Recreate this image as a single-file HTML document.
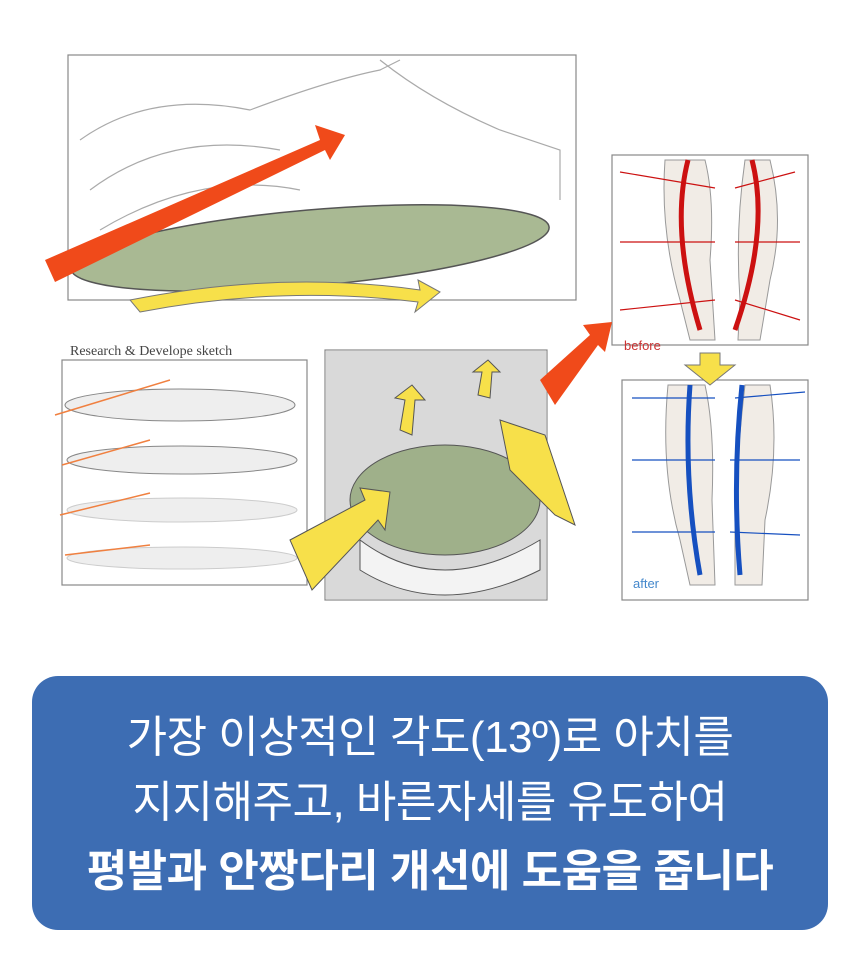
<!DOCTYPE html>
<html><head><meta charset="utf-8"><style>
body{margin:0;width:860px;height:957px;background:#fff;overflow:hidden;font-family:"Liberation Sans","Noto Sans CJK KR",sans-serif}
.box{position:absolute;left:32px;top:676px;width:796px;height:254px;background:#3d6db3;border-radius:26px;color:#fff;text-align:center}
.l{position:absolute;left:0;right:0;font-size:44px;line-height:50px;letter-spacing:-0.5px;font-weight:400}
</style></head><body>
<svg width="860" height="660" style="position:absolute;left:0;top:0" xmlns="http://www.w3.org/2000/svg">
<g stroke="#888" fill="none" stroke-width="1.2">
<rect x="68" y="55" width="508" height="245"/>
<path d="M80 140 Q150 90 250 110 Q330 80 380 70 L400 60 M90 190 Q170 130 280 150 M100 230 Q200 170 300 190 M380 60 Q430 100 500 130 L560 150 L560 200" stroke="#aaa"/>
<rect x="62" y="360" width="245" height="225"/>
<rect x="325" y="350" width="222" height="250"/>
<rect x="612" y="155" width="196" height="190"/>
<rect x="622" y="380" width="186" height="220"/>
</g>
<rect x="326" y="351" width="220" height="248" fill="#d9d9d9"/>
<ellipse cx="445" cy="500" rx="95" ry="55" fill="#9fb08a" stroke="#555"/>
<path d="M360 540 Q440 600 540 540 L540 570 Q440 620 360 570Z" fill="#f3f3f3" stroke="#555"/>
<ellipse cx="310" cy="248" rx="240" ry="38" fill="#a9b993" stroke="#555" stroke-width="1.5" transform="rotate(-5 310 248)"/>
<path d="M45 260 L320 140 L315 125 L345 135 L330 160 L325 150 L55 282Z" fill="#f04a1a"/>
<path d="M130 300 Q280 270 420 290 L418 280 L440 292 L415 312 L418 302 Q280 285 140 312Z" fill="#f7e04a" stroke="#777"/>
<text x="70" y="355" font-size="14" fill="#444" font-family="Liberation Serif">Research &amp; Develope sketch</text>
<g fill="#eee" stroke="#888">
<ellipse cx="180" cy="405" rx="115" ry="16"/>
<ellipse cx="182" cy="460" rx="115" ry="14"/>
<ellipse cx="182" cy="510" rx="115" ry="12" stroke="#ccc"/>
<ellipse cx="182" cy="558" rx="115" ry="11" stroke="#ccc"/>
</g>
<g stroke="#f08040" stroke-width="1.5"><path d="M55 415 L170 380 M62 465 L150 440 M60 515 L150 493 M65 555 L150 545"/></g>
<path d="M290 540 L365 500 L360 488 L390 492 L385 530 L378 520 L312 590Z" fill="#f7e04a" stroke="#555"/>
<path d="M500 420 L545 435 L575 525 L555 515 L510 470Z" fill="#f7e04a" stroke="#555"/>
<path d="M400 430 L405 400 L395 398 L412 385 L425 400 L415 400 L412 435Z" fill="#f7e04a" stroke="#555"/>
<path d="M478 395 L482 372 L473 372 L488 360 L500 372 L492 372 L490 398Z" fill="#f7e04a" stroke="#555"/>
<path d="M540 380 L590 335 L583 325 L612 322 L605 352 L598 345 L555 405Z" fill="#f04a1a"/>
<text x="624" y="350" font-size="13" fill="#c33">before</text>
<text x="633" y="588" font-size="13" fill="#48c">after</text>
<path d="M700 353 L720 353 L720 365 L735 365 L710 385 L685 365 L700 365Z" fill="#f7e04a" stroke="#777"/>
<g fill="#f1ece6" stroke="#999">
<path d="M665 160 Q660 230 680 300 L690 340 L715 340 L710 260 Q715 200 705 160Z"/>
<path d="M745 160 Q735 230 740 300 L738 340 L760 340 L770 280 Q785 220 770 160Z"/>
<path d="M668 385 Q660 470 680 540 L690 585 L715 585 L712 500 Q715 430 705 385Z"/>
<path d="M745 385 Q735 470 735 540 L735 585 L762 585 L765 520 Q780 450 770 385Z"/>
</g>
<g stroke="#c11" stroke-width="5" fill="none"><path d="M688 160 Q670 230 700 330"/><path d="M752 160 Q770 230 735 330"/></g>
<g stroke="#c11" stroke-width="1.2"><path d="M620 172 L715 188 M620 242 L715 242 M620 310 L715 300 M795 172 L735 188 M800 242 L735 242 M800 320 L735 300"/></g>
<g stroke="#1650c0" stroke-width="5" fill="none"><path d="M690 385 Q683 480 700 575"/><path d="M742 385 Q732 480 740 575"/></g>
<g stroke="#1650c0" stroke-width="1.2"><path d="M632 398 L715 398 M632 460 L715 460 M632 532 L715 532 M805 392 L735 398 M800 460 L730 460 M800 535 L730 532"/></g>
</svg>
<div class="box">
<div class="l" style="top:37px">가장 이상적인 각도(13º)로 아치를</div>
<div class="l" style="top:102px">지지해주고, 바른자세를 유도하여</div>
<div class="l" style="top:171px;font-weight:bold">평발과 안짱다리 개선에 도움을 줍니다</div>
</div>
</body></html>
